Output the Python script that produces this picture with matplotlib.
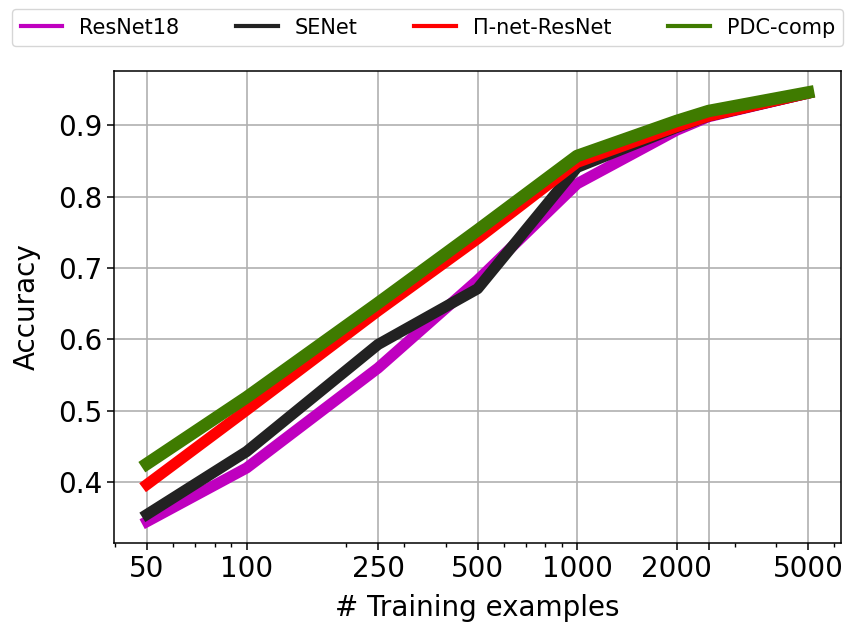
import matplotlib
matplotlib.use("Agg")
import matplotlib.pyplot as plt

train_sizes = [50, 100, 250, 500, 1000, 2000, 2500, 5000]
tick_labels = ["50", "100", "250", "500", "1000", "2000", "", "5000"]

resnet18 = [0.345, 0.420, 0.560, 0.683, 0.818, 0.893, 0.912, 0.945]
senet = [0.355, 0.443, 0.593, 0.671, 0.841, 0.897, 0.913, 0.945]
pinet = [0.397, 0.501, 0.640, 0.741, 0.848, 0.898, 0.913, 0.945]
pdc = [0.426, 0.519, 0.651, 0.753, 0.857, 0.906, 0.920, 0.946]

series = [
    ("ResNet18", resnet18, "#bf00bf", 8),
    ("SENet", senet, "#222222", 8),
    ("Π-net-ResNet", pinet, "#ff0000", 8),
    ("PDC-comp", pdc, "#3f7b00", 9),
]

fig = plt.figure(figsize=(8.47, 6.26), dpi=100)
ax = fig.add_axes([0.1346, 0.1326, 0.8584, 0.754])

for name, vals, col, lw in series:
    ax.plot(train_sizes, vals, color=col, lw=lw, label=name)

ax.set_xscale("log")
ax.set_xticks(train_sizes)
ax.set_xticklabels(tick_labels)
ax.grid(True, which="major", color="#b0b0b0", lw=1.2)
ax.tick_params(axis="both", which="major", labelsize=20, length=5, width=1.1)
ax.tick_params(axis="both", which="minor", length=3, width=1.0)
ax.set_yticks([0.4, 0.5, 0.6, 0.7, 0.8, 0.9])
for s in ax.spines.values():
    s.set_linewidth(1.1)

ax.set_xlabel("# Training examples", fontsize=20, labelpad=8)
ax.set_ylabel("Accuracy", fontsize=20, labelpad=12)

leg = ax.legend(loc="lower left", bbox_to_anchor=(-0.14, 1.053, 1.143, 0.08),
                mode="expand", ncol=4, fontsize=15, borderaxespad=0.0,
                handlelength=2.0)
for line in leg.get_lines():
    line.set_linewidth(3)

fig.savefig("out.png", dpi=100)
